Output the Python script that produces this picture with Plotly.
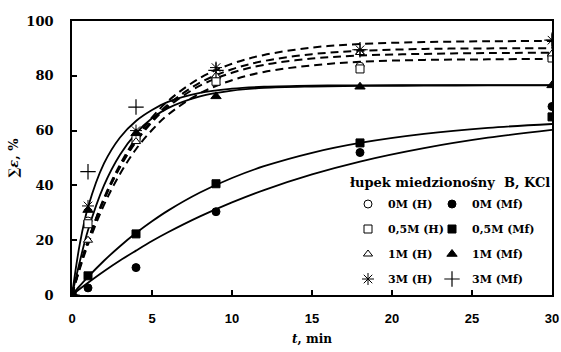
import plotly.graph_objects as go

# ---- measured points ----
t_pts = [0, 1, 4, 9, 18, 30]
h_0M = [0, 27, 57, 79, 83.5, 87]
h_05M = [0, 26, 57, 78, 82.5, 86.5]
h_1M = [0, 20, 56, 80, 88.5, 88]
h_3M = [0, 32.5, 60, 83, 89.5, 93]
mf_0M = [0, 2.6, 10, 30.4, 52, 68.8]
mf_05M = [0, 7, 22.3, 40.6, 55.5, 65]
mf_1M = [0, 31, 59, 72.5, 76, 76.5]
mf_3M = [0, 45, 68.6, 82, 89.5, 93]

# ---- fitted curves, values ----
t_fit = [0, 0.5, 1, 2, 3, 4, 5, 6, 8, 10, 12, 15, 18, 22, 26, 30]
fit_mf_05M = [0, 3.4, 6.6, 12.5, 17.8, 22.6, 26.9, 30.8, 37.4, 42.7, 47.0, 51.9, 55.5, 58.8, 61.0, 62.4]
fit_mf_0M = [0, 2.3, 4.5, 8.7, 12.6, 16.2, 19.7, 22.9, 28.7, 33.8, 38.3, 44.0, 48.7, 53.6, 57.4, 60.3]
fit_mf_3M = [0, 19, 32, 48, 57.5, 63.5, 67.5, 70.5, 73.8, 75.3, 76.0, 76.4, 76.5, 76.6, 76.6, 76.6]
fit_mf_1M = [0, 12.5, 23.6, 40.0, 51.2, 59.0, 64.5, 68.2, 72.5, 74.6, 75.6, 76.1, 76.3, 76.4, 76.5, 76.5]
fit_h_3M = [0, 10.5, 19.8, 35.4, 47.6, 57.3, 64.8, 70.8, 79.2, 84.4, 87.6, 90.3, 91.6, 92.3, 92.6, 92.7]
fit_h_1M = [0, 10.4, 19.6, 34.9, 46.9, 56.3, 63.7, 69.5, 77.5, 82.4, 85.4, 87.9, 89.1, 89.8, 90.0, 90.1]
fit_h_0M = [0, 10.4, 19.6, 34.8, 46.6, 55.9, 63.1, 68.7, 76.4, 81.1, 84.0, 86.3, 87.4, 88.0, 88.3, 88.4]
fit_h_05M = [0, 9.8, 18.4, 32.9, 44.2, 53.2, 60.2, 65.8, 73.6, 78.4, 81.4, 83.8, 85.1, 85.8, 86.0, 86.2]

x_ticks = [0, 5, 10, 15, 20, 25, 30]
y_ticks = [0, 20, 40, 60, 80, 100]

SERIF = "DejaVu Serif"

fig = go.Figure()

for ys in [fit_mf_05M, fit_mf_0M, fit_mf_3M, fit_mf_1M]:
    fig.add_trace(go.Scatter(x=t_fit, y=ys, mode="lines", line=dict(color="black", width=1.8, shape="spline"),
                             showlegend=False, hoverinfo="skip"))
for ys in [fit_h_3M, fit_h_1M, fit_h_0M, fit_h_05M]:
    fig.add_trace(go.Scatter(x=t_fit, y=ys, mode="lines",
                             line=dict(color="black", width=2, dash="8px,5px", shape="spline"),
                             showlegend=False, hoverinfo="skip"))

def pts(name, ys, symbol, fill, size, legend, group, lw=1):
    fig.add_trace(go.Scatter(x=t_pts, y=ys, mode="markers", name=name, legend=legend,
                             legendgroup=group,
                             marker=dict(symbol=symbol, color=fill, size=size,
                                         line=dict(color="black", width=lw))))

pts("0M (H)", h_0M, "circle", "white", 8, "legend", "a")
pts("0,5M (H)", h_05M, "square", "white", 8, "legend", "b")
pts("1M (H)", h_1M, "triangle-up", "white", 8, "legend", "c")
pts("3M (H)", h_3M, "asterisk-open", "black", 10, "legend", "d")
pts("0M (Mf)", mf_0M, "circle", "black", 8, "legend2", "e")
pts("0,5M (Mf)", mf_05M, "square", "black", 8, "legend2", "f")
pts("1M (Mf)", mf_1M, "triangle-up", "black", 9, "legend2", "g")
pts("3M (Mf)", mf_3M, "cross-thin-open", "black", 11, "legend2", "h", lw=1.2)

legend_common = dict(yanchor="top", y=0.385, xanchor="left", bgcolor="rgba(0,0,0,0)",
                     font=dict(family=SERIF, size=11, color="black", weight="bold"),
                     traceorder="grouped", tracegroupgap=6, itemwidth=30)

fig.update_layout(
    width=561, height=352,
    margin=dict(l=72, r=9, t=21, b=57),
    paper_bgcolor="white", plot_bgcolor="white",
    font=dict(family=SERIF, color="black"),
    legend=dict(x=0.575, **legend_common),
    legend2=dict(x=0.75, **legend_common),
    xaxis=dict(range=[0, 30], tickvals=x_ticks, ticks="inside", ticklen=5, tickwidth=1.5, tickcolor="black",
               showline=True, linecolor="black", linewidth=1.8, mirror=True, showgrid=False, zeroline=False,
               automargin=False,
               tickfont=dict(family="Liberation Sans", size=13, color="black", weight="bold"),
               ticklabelstandoff=10,
               title=dict(text="<i>t</i>, min", font=dict(family=SERIF, size=12, weight="bold"),
                          standoff=10)),
    yaxis=dict(range=[0, 100], tickvals=y_ticks,
               ticks="inside", ticklen=5, tickwidth=1.5, tickcolor="black",
               showline=True, linecolor="black", linewidth=1.8, mirror=True, showgrid=False, zeroline=False,
               automargin=False,
               tickfont=dict(family=SERIF, size=13, color="black", weight="bold"),
               ticklabelstandoff=14,
               title=dict(text="∑<i>ε</i>, %", font=dict(family=SERIF, size=13, weight="bold"),
                          standoff=5)),
    annotations=[dict(text="łupek miedzionośny  B, KCl", xref="paper", yref="paper", x=1.0, y=0.409,
                      xanchor="right", yanchor="middle", showarrow=False,
                      font=dict(family=SERIF, size=13, color="black", weight="bold"))],
)

fig.write_html("out.html")
